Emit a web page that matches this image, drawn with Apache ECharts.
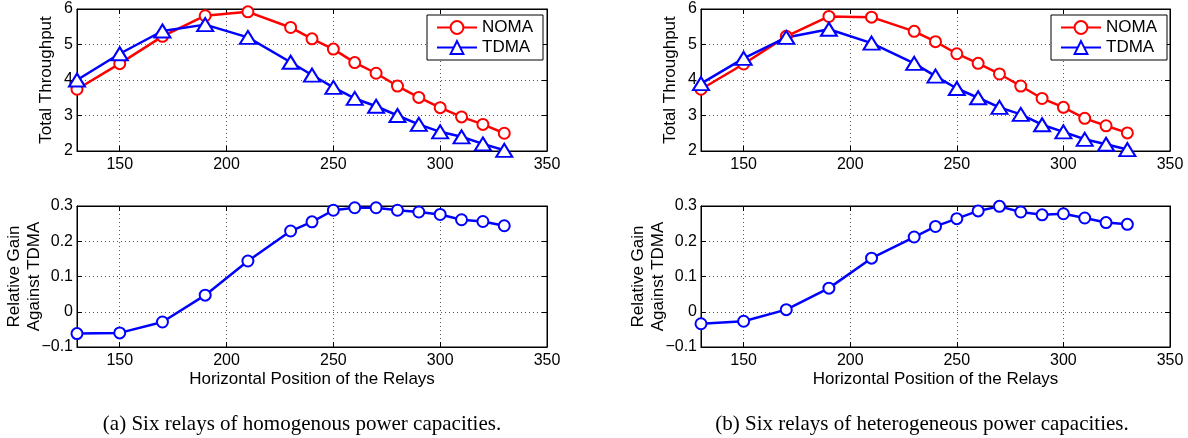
<!DOCTYPE html>
<html>
<head>
<meta charset="utf-8">
<script src="https://cdn.jsdelivr.net/npm/echarts@6/dist/echarts.min.js"></script>
<style>
html,body{margin:0;padding:0;background:#fff;}
#chart{width:1188px;height:438px;}
</style>
</head>
<body>
<div id="chart"></div>
<script>
// ---- data ----
var positions = [130,150,170,190,210,230,240,250,260,270,280,290,300,310,320,330];
// (a) homogenous
var nomaA = [3.74,4.46,5.23,5.81,5.92,5.48,5.16,4.87,4.49,4.19,3.83,3.51,3.22,2.96,2.75,2.50];
var tdmaA = [4.00,4.74,5.38,5.56,5.20,4.50,4.14,3.79,3.48,3.26,3.00,2.75,2.54,2.40,2.20,2.02];
var gainA = [-0.062,-0.060,-0.029,0.047,0.144,0.229,0.255,0.288,0.295,0.295,0.288,0.283,0.276,0.261,0.256,0.244];
// (b) heterogeneous
var nomaB = [3.74,4.45,5.23,5.79,5.77,5.37,5.08,4.74,4.47,4.17,3.83,3.48,3.23,2.92,2.71,2.51];
var tdmaB = [3.90,4.61,5.20,5.43,5.04,4.47,4.11,3.76,3.50,3.23,3.03,2.74,2.54,2.33,2.19,2.04];
var gainB = [-0.034,-0.027,0.006,0.067,0.152,0.212,0.242,0.264,0.286,0.299,0.283,0.275,0.278,0.266,0.253,0.248];

var seriesNames = ['NOMA','TDMA'];
var xTitle = 'Horizontal Position of the Relays';
var yTitleTop = 'Total Throughput';
var yTitleBottom = 'Relative Gain\nAgainst TDMA';
var captions = ['(a) Six relays of homogenous power capacities.', '(b) Six relays of heterogeneous power capacities.'];

function pairs(xs, ys){ return xs.map(function(x,i){return [x, ys[i]];}); }

var FONT = 'Liberation Sans';
var grids = [
  {left:77, right:641, top:9, height:142},
  {left:77, right:641, top:206, height:141},
  {left:701, right:18, top:9, height:142},
  {left:701, right:18, top:206, height:141}
];

var xAxes = [], yAxes = [];
var gridLine = {show:true, lineStyle:{color:'#555', width:1, type:[1,3]}};
function fmtY(v){
  var s = (Math.abs(v) < 1e-9) ? '0' : String(Math.round(v*10)/10);
  return s.replace('-', '\u2212');
}
grids.forEach(function(g, i){
  var isTop = (i % 2 === 0);
  var xBase = {
    type:'value', gridIndex:i, min:130, max:350,
    axisLine:{show:true, onZero:false, lineStyle:{color:'#000', width:1}},
    axisTick:{show:true, inside:true, length:5, lineStyle:{color:'#000'}},
    splitLine:{show:false}
  };
  xAxes.push(Object.assign({}, xBase, {
    position:'bottom',
    axisLabel:{show:true, showMinLabel:false, color:'#000', fontFamily:FONT, fontSize:16, margin:6},
    splitLine:gridLine,
    name: isTop ? '' : xTitle,
    nameLocation:'middle', nameGap:24, nameMoveOverlap:false,
    nameTextStyle:{color:'#000', fontFamily:FONT, fontSize:17}
  }));
  xAxes.push(Object.assign({}, xBase, {
    position:'top', axisLabel:{show:false}
  }));
  var yMin = isTop ? 2 : -0.1, yMax = isTop ? 6 : 0.3, yInt = isTop ? 1 : 0.1;
  var yBase = {
    type:'value', gridIndex:i, min:yMin, max:yMax, interval:yInt,
    axisLine:{show:true, onZero:false, lineStyle:{color:'#000', width:1}},
    axisTick:{show:true, inside:true, length:5, lineStyle:{color:'#000'}},
    splitLine:{show:false}
  };
  yAxes.push(Object.assign({}, yBase, {
    position:'left',
    axisLabel:{show:true, color:'#000', fontFamily:FONT, fontSize:16, margin:4, formatter:fmtY},
    splitLine:gridLine,
    name: isTop ? yTitleTop : yTitleBottom,
    nameLocation:'middle', nameRotate:90, nameMoveOverlap:false,
    nameGap: isTop ? 21 : 33,
    nameTextStyle:{color:'#000', fontFamily:FONT, fontSize:17, lineHeight:20}
  }));
  yAxes.push(Object.assign({}, yBase, {
    position:'right', axisLabel:{show:false}
  }));
});

var RED = '#ff0000', BLUE = '#0000ff';
function lineSeries(name, data, idx, color, symbol, size){
  return {
    name:name, type:'line', data:data,
    xAxisIndex: idx*2, yAxisIndex: idx*2,
    symbol:symbol, symbolSize:size, showAllSymbol:true,
    lineStyle:{color:color, width:2.5},
    itemStyle:{color:color, borderColor:color, borderWidth:2.5},
    emphasis:{disabled:true}, animation:false, z:3
  };
}
var series = [
  lineSeries('NOMA', pairs(positions, nomaA), 0, RED, 'emptyCircle', 11),
  lineSeries('TDMA', pairs(positions, tdmaA), 0, BLUE, 'emptyTriangle', [16,13]),
  lineSeries('gainA', pairs(positions, gainA), 1, BLUE, 'emptyCircle', 11),
  lineSeries('NOMA', pairs(positions, nomaB), 2, RED, 'emptyCircle', 11),
  lineSeries('TDMA', pairs(positions, tdmaB), 2, BLUE, 'emptyTriangle', [16,13]),
  lineSeries('gainB', pairs(positions, gainB), 3, BLUE, 'emptyCircle', 11)
];

function legendAt(left){
  return {
    data:seriesNames, left:left, top:15, orient:'vertical',
    padding:[4,10,4,9], itemGap:3, itemWidth:40, itemHeight:16,
    backgroundColor:'#fff', borderColor:'#000', borderWidth:1,
    textStyle:{color:'#000', fontFamily:FONT, fontSize:17},
    selectedMode:false
  };
}

var chart = echarts.init(document.getElementById('chart'), null, {renderer:'canvas'});
chart.setOption({
  animation:false,
  backgroundColor:'#fff',
  grid: grids.map(function(g){ return Object.assign({show:true, borderColor:'#000', borderWidth:1, backgroundColor:'#fff', containLabel:false, outerBoundsMode:'none'}, g); }),
  xAxis: xAxes,
  yAxis: yAxes,
  legend: [legendAt(427), legendAt(1051)],
  title: [
    {text:captions[0], left:297, top:409, textAlign:'center',
     textStyle:{fontFamily:'Liberation Serif', fontSize:21, fontWeight:'normal', color:'#000'}},
    {text:captions[1], left:917, top:409, textAlign:'center',
     textStyle:{fontFamily:'Liberation Serif', fontSize:21, fontWeight:'normal', color:'#000'}}
  ],
  series: series
});
</script>
</body>
</html>
